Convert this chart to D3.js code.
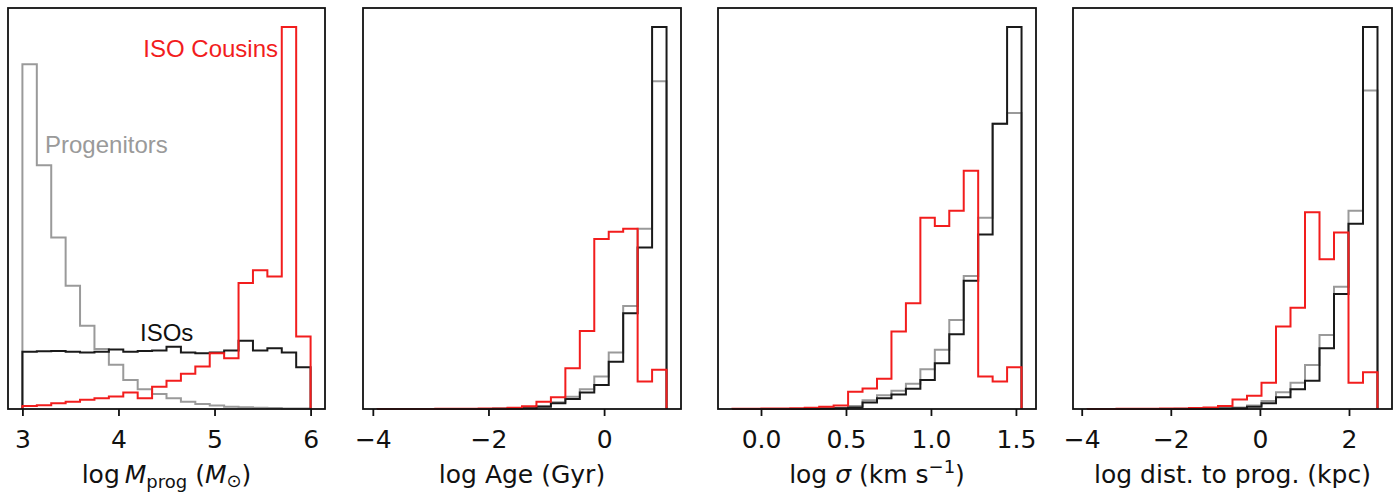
<!DOCTYPE html>
<html>
<head>
<meta charset="utf-8">
<script src="https://d3js.org/d3.v7.min.js"></script>
<style>
    body { margin: 0; background: #fff; }
    svg text { font-family: "DejaVu Sans", sans-serif; }
    .tick text { font-size: 25px; }
</style>
</head>
<body>
<div id="chart"></div>
<script>

    // histogram ranges (20 equal bins each)
    var massRange = [3.0, 6.0];
    var ageRange = [-3.92, 1.08];
    var sigmaRange = [-0.168, 1.533];
    var distRange = [-3.87, 2.64];

    // bin heights (tallest bar per panel = 100)
    var massGray = [90.3, 63.8, 44.9, 32.3, 21.8, 15.7, 11.6, 7.6, 5.2, 3.9, 2.8, 1.9, 1.3, 0.9, 0.6, 0.45, 0.35, 0.25, 0.15, 0.1];
    var massBlack = [15.0, 15.1, 15.2, 15.0, 14.8, 15.0, 15.6, 15.0, 15.2, 15.3, 16.3, 14.8, 14.6, 14.8, 15.3, 17.9, 15.3, 15.9, 14.8, 10.9];
    var massRed = [0.8, 1.0, 1.5, 1.9, 2.4, 2.8, 3.3, 4.3, 2.8, 5.8, 7.4, 9.2, 11.1, 14.6, 13.3, 33.0, 36.3, 34.7, 100, 19.0];

    var ageGray = [0, 0, 0, 0, 0.01, 0.01, 0.02, 0.03, 0.06, 0.12, 0.3, 0.8, 1.8, 3.2, 5.2, 8.5, 14.8, 27.0, 47.2, 85.8];
    var ageBlack = [0, 0, 0, 0, 0.01, 0.01, 0.02, 0.03, 0.05, 0.1, 0.2, 0.6, 1.5, 2.6, 4.3, 6.3, 12.4, 25.1, 42.3, 100];
    var ageRed = [0.02, 0.02, 0.03, 0.03, 0.04, 0.05, 0.07, 0.1, 0.15, 0.3, 0.7, 1.9, 3.1, 10.7, 20.4, 44.5, 46.4, 47.2, 7.2, 10.3];

    var sigmaGray = [0, 0, 0, 0, 0.03, 0.06, 0.12, 0.25, 0.8, 2.3, 3.6, 4.8, 6.6, 10.4, 15.5, 23.3, 34.8, 50.1, 74.7, 77.5];
    var sigmaBlack = [0, 0, 0, 0, 0.02, 0.05, 0.1, 0.2, 0.4, 1.7, 2.8, 3.8, 5.3, 7.6, 12.0, 19.6, 33.6, 45.7, 74.7, 100];
    var sigmaRed = [0.05, 0.07, 0.1, 0.15, 0.2, 0.3, 0.6, 0.9, 4.5, 5.4, 7.9, 20.3, 27.7, 50.1, 47.9, 51.9, 62.4, 8.5, 7.2, 10.9];

    var distGray = [0, 0, 0, 0, 0.01, 0.02, 0.04, 0.06, 0.1, 0.2, 0.4, 0.9, 2.1, 4.4, 6.9, 11.5, 19.4, 32.0, 51.9, 83.4];
    var distBlack = [0, 0, 0, 0, 0.01, 0.02, 0.03, 0.05, 0.08, 0.12, 0.2, 0.6, 1.5, 3.1, 5.2, 7.4, 15.9, 30.1, 48.5, 100];
    var distRed = [0.02, 0.03, 0.04, 0.05, 0.07, 0.1, 0.15, 0.25, 0.4, 0.8, 2.5, 3.5, 6.9, 21.6, 26.5, 51.5, 39.2, 46.2, 6.9, 9.6];

    // tick labels
    var massTicks = [3, 4, 5, 6];
    var ageTicks = [-4, -2, 0];
    var sigmaTicks = [0.0, 0.5, 1.0, 1.5];
    var distTicks = [-4, -2, 0, 2];

    var width = 1400, height = 495;
    var plotTop = 8, plotBottom = 409;

    var svg = d3.select("#chart")
        .append("svg")
        .attr("width", width)
        .attr("height", height);

    var panels = [
        { left: 8, right: 325, range: massRange, ticks: massTicks, fmt: d3.format("d"), gray: massGray, black: massBlack, red: massRed },
        { left: 363, right: 681, range: ageRange, ticks: ageTicks, fmt: d3.format("d"), gray: ageGray, black: ageBlack, red: ageRed },
        { left: 718, right: 1036, range: sigmaRange, ticks: sigmaTicks, fmt: d3.format(".1f"), gray: sigmaGray, black: sigmaBlack, red: sigmaRed },
        { left: 1073, right: 1392, range: distRange, ticks: distTicks, fmt: d3.format("d"), gray: distGray, black: distBlack, red: distRed }
    ];

    var y = d3.scaleLinear().domain([0, 105]).range([plotBottom, plotTop]);

    function stepPoints(vals, lo, hi) {
        var n = vals.length, w = (hi - lo) / n, pts = [[lo, 0]];
        for (var i = 0; i < n; i++) {
            pts.push([lo + i * w, vals[i]]);
            pts.push([lo + (i + 1) * w, vals[i]]);
        }
        pts.push([hi, 0]);
        return pts;
    }

    panels.forEach(function (p) {
        var lo = p.range[0], hi = p.range[1];
        var pad = 0.05 * (hi - lo);
        var x = d3.scaleLinear().domain([lo - pad, hi + pad]).range([p.left, p.right]);
        var g = svg.append("g");

        var line = d3.line()
            .x(function (d) { return x(d[0]); })
            .y(function (d) { return y(d[1]); });

        // gray under black under red
        [["gray", "#9a9a9a"], ["black", "#1a1a1a"], ["red", "#f21d1d"]].forEach(function (s) {
            g.append("path")
                .attr("d", line(stepPoints(p[s[0]], lo, hi)))
                .attr("fill", "none")
                .attr("stroke", s[1])
                .attr("stroke-width", 2)
                .attr("stroke-linejoin", "miter");
        });

        // frame
        g.append("rect")
            .attr("x", p.left)
            .attr("y", plotTop)
            .attr("width", p.right - p.left)
            .attr("height", plotBottom - plotTop)
            .attr("fill", "none")
            .attr("stroke", "#111")
            .attr("stroke-width", 1.8);

        // x axis
        var ax = g.append("g")
            .attr("transform", "translate(0," + plotBottom + ")")
            .call(d3.axisBottom(x).tickValues(p.ticks).tickFormat(p.fmt).tickSize(7).tickPadding(6));
        ax.select(".domain").remove();
        ax.selectAll(".tick line").attr("stroke", "#111").attr("stroke-width", 1.8);
        ax.selectAll(".tick text")
            .attr("fill", "#111")
            .attr("y", 39)
            .attr("dy", null);
    });

    // axis labels
    var labelY = 483;
    function xlabel(cx) {
        return svg.append("text")
            .attr("x", cx)
            .attr("y", labelY)
            .attr("text-anchor", "middle")
            .style("font-size", "25px")
            .attr("fill", "#111");
    }

    var l1 = xlabel((panels[0].left + panels[0].right) / 2);
    l1.append("tspan").text("log\u2009");
    l1.append("tspan").attr("font-style", "italic").text("M");
    l1.append("tspan").attr("dy", 5).style("font-size", "18px").text("prog");
    l1.append("tspan").attr("dy", -5).text(" (");
    l1.append("tspan").attr("font-style", "italic").text("M");
    l1.append("tspan").attr("dy", 4).style("font-size", "18px").text("\u2299");
    l1.append("tspan").attr("dy", -4).text(")");

    xlabel((panels[1].left + panels[1].right) / 2).text("log Age (Gyr)");

    var l3 = xlabel((panels[2].left + panels[2].right) / 2);
    l3.append("tspan").text("log ");
    l3.append("tspan").attr("font-style", "italic").text("\u03c3");
    l3.append("tspan").text(" (km s");
    l3.append("tspan").attr("dy", -10).style("font-size", "18px").text("\u22121");
    l3.append("tspan").attr("dy", 10).text(")");

    xlabel((panels[3].left + panels[3].right) / 2).text("log dist. to prog. (kpc)");

    // annotations in first panel
    var notes = [
        { text: "ISO Cousins", x: 278, y: 57, anchor: "end", color: "#f21d1d" },
        { text: "Progenitors", x: 45, y: 153, anchor: "start", color: "#9a9a9a" },
        { text: "ISOs", x: 140, y: 341, anchor: "start", color: "#111" }
    ];
    notes.forEach(function (n) {
        svg.append("text")
            .attr("x", n.x)
            .attr("y", n.y)
            .attr("text-anchor", n.anchor)
            .attr("fill", n.color)
            .style("font-family", "Liberation Sans, Arial, sans-serif")
            .style("font-size", "24px")
            .text(n.text);
    });

</script>
</body>
</html>
